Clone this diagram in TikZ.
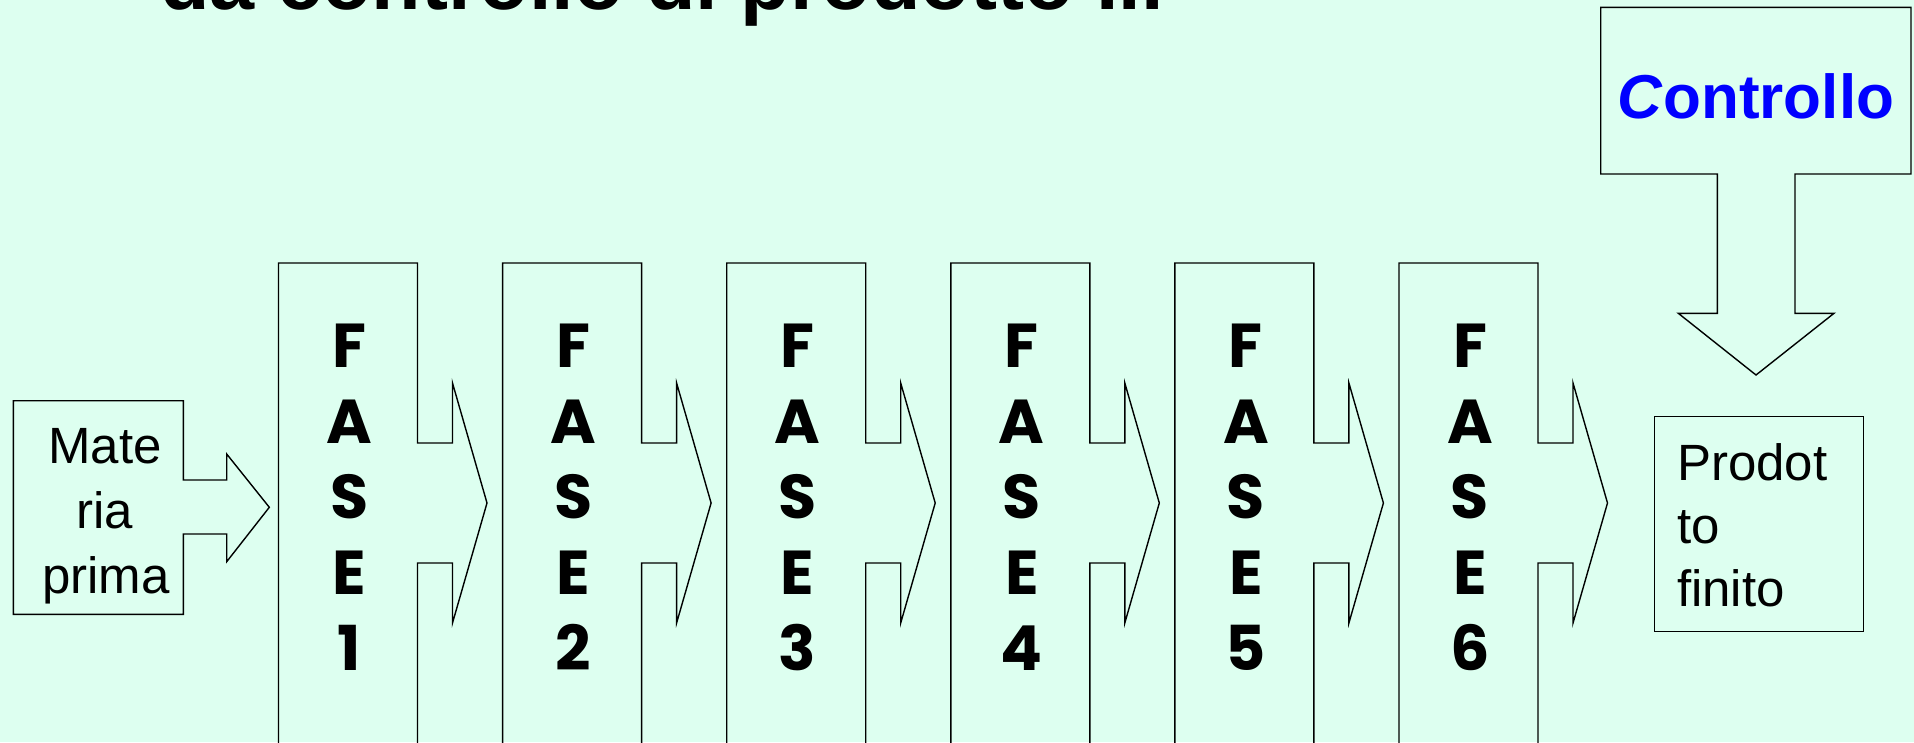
\documentclass[tikz,border=0pt]{standalone}
\usepackage{fontspec}
\setmainfont{Liberation Sans}
\newfontfamily\fasefont{Poppins}
\definecolor{bgmint}{RGB}{221,255,240}
\definecolor{ctrlblue}{RGB}{0,0,255}
\begin{document}
\begin{tikzpicture}[x=1pt,y=-1pt,
  outline/.style={draw=black,line width=1.4pt,line join=miter},
  lbl/.style={inner sep=0pt,outer sep=0pt,font=\fontsize{51}{60}\selectfont},
  faselbl/.style={inner sep=0pt,outer sep=0pt,anchor=base,font=\fasefont\bfseries\fontsize{62}{70}\selectfont}]
\useasboundingbox (0,0) rectangle (1914,742);
\fill[bgmint] (0,0) rectangle (1914,742);
\clip (0,0) rectangle (1914,742);

% title (cut off at the top)
\node[inner sep=0pt,anchor=base west,font=\bfseries\fontsize{81}{90}\selectfont] (title) at (160,9) {da controllo di prodotto ...};

% Controllo down-arrow callout
\draw[outline] (1600.7,7.3) -- (1911,7.3) -- (1911,174) -- (1795,174) -- (1795,313.3)
  -- (1834,313.3) -- (1756,375) -- (1678.3,313.3) -- (1717.3,313.3) -- (1717.3,174)
  -- (1600.7,174) -- cycle;
\node[inner sep=0pt,anchor=base,text=ctrlblue,font=\bfseries\fontsize{62}{70}\selectfont] (ctrl) at (1756,118.3) {\textit{C}ontrollo};

% Materia prima right-arrow callout
\draw[outline] (13.3,400.7) -- (183.3,400.7) -- (183.3,480) -- (226.7,480) -- (226.7,454)
  -- (269.3,507.3) -- (226.7,561.7) -- (226.7,534) -- (183.3,534) -- (183.3,614.3)
  -- (13.3,614.3) -- cycle;
\node[lbl,anchor=base] (mp1) at (105,463) {Mate};
\node[lbl,anchor=base] (mp2) at (105,528) {ria};
\node[lbl,anchor=base] (mp3) at (106,593) {prima};

% FASE callouts
\foreach \i in {1,...,6} {
  \pgfmathsetmacro{\L}{278.5+224.1*(\i-1)}
  \pgfmathsetmacro{\R}{\L+139}
  \pgfmathsetmacro{\N}{\R+35}
  \pgfmathsetmacro{\T}{\R+69.5}
  \pgfmathsetmacro{\C}{\L+71}
  \draw[outline] (\L,263) -- (\R,263) -- (\R,443) -- (\N,443) -- (\N,383) -- (\T,503)
    -- (\N,623) -- (\N,563) -- (\R,563) -- (\R,780) -- (\L,780) -- cycle;
  \node[faselbl] (f\i a) at (\C,367) {F};
  \node[faselbl] (f\i b) at (\C,443) {A};
  \node[faselbl] (f\i c) at (\C,518) {S};
  \node[faselbl] (f\i d) at (\C,594) {E};
  \node[faselbl] (f\i e) at (\C,670) {\i};
}

% Prodotto finito box
\draw[outline] (1654.3,416.7) rectangle (1863.3,631.7);
\node[lbl,anchor=base west] (pf1) at (1677,480) {Prodot};
\node[lbl,anchor=base west] (pf2) at (1677,543.3) {to};
\node[lbl,anchor=base west] (pf3) at (1677,606.7) {finito};
\end{tikzpicture}
\end{document}
